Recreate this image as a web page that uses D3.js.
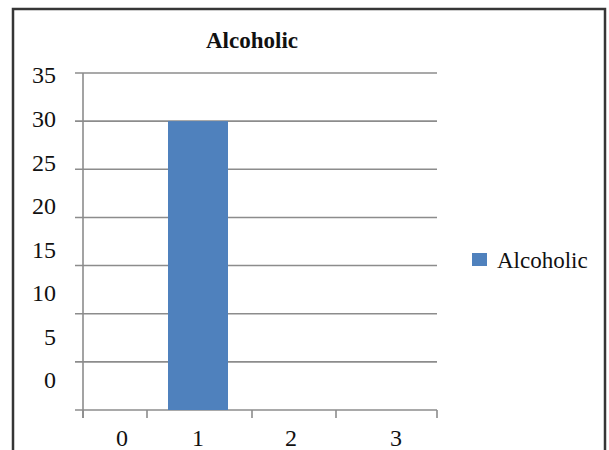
<!DOCTYPE html>
<html>
<head>
<meta charset="utf-8">
<script src="https://cdn.jsdelivr.net/npm/d3@7"></script>
<style>
  html, body { margin: 0; padding: 0; background: #fff; }
  svg { display: block; }
</style>
</head>
<body>
<svg id="chart" width="609" height="450"></svg>
<script>
// ---- data ----
const categories = [0, 1, 2, 3];
const seriesName = "Alcoholic";
const values = [0, 30, 0, 0];
const yTickValues = [0, 5, 10, 15, 20, 25, 30, 35];
const chartTitle = "Alcoholic";

// ---- layout ----
const svg = d3.select("#chart");
const FONT = '"Liberation Serif"';

// outer frame
svg.append("rect")
  .attr("x", 13).attr("y", 9)
  .attr("width", 592).attr("height", 460)
  .attr("fill", "#fff")
  .attr("stroke", "#363636")
  .attr("stroke-width", 2.5);

// y scale for marks / gridlines
const y = d3.scaleLinear().domain([0, 35]).range([410, 73]);
// y scale for the (offset) tick labels as they appear
const yLabel = d3.scaleLinear().domain([0, 35]).range([380, 75]);

// x scale (piecewise, matches the uneven category layout)
const x = d3.scaleLinear()
  .domain([-0.5, 0, 0.5, 1, 1.5, 2, 2.5, 3, 3.5])
  .range([83, 122, 147, 198, 252, 291, 336, 396, 437]);
const barWidth = 60;

const plotLeft = x(-0.5), plotRight = x(3.5);

// gridlines (including baseline)
svg.append("g")
  .selectAll("line")
  .data(yTickValues)
  .join("line")
  .attr("x1", plotLeft - 8).attr("x2", plotRight)
  .attr("y1", d => y(d)).attr("y2", d => y(d))
  .attr("stroke", "#8c8c8c")
  .attr("stroke-width", 1.6);

// y axis line
svg.append("line")
  .attr("x1", plotLeft).attr("x2", plotLeft)
  .attr("y1", y(35)).attr("y2", y(0) + 8)
  .attr("stroke", "#8c8c8c").attr("stroke-width", 1.6);

// x ticks at category boundaries
const boundaries = [-0.5, 0.5, 1.5, 2.5, 3.5];
svg.append("g")
  .selectAll("line")
  .data(boundaries)
  .join("line")
  .attr("x1", d => x(d)).attr("x2", d => x(d))
  .attr("y1", y(0)).attr("y2", y(0) + 8)
  .attr("stroke", "#8c8c8c").attr("stroke-width", 1.6);

// bars
svg.append("g")
  .selectAll("rect")
  .data(categories.map((c, i) => ({ c, v: values[i] })).filter(d => d.v > 0))
  .join("rect")
  .attr("x", d => x(d.c) - barWidth / 2)
  .attr("width", barWidth)
  .attr("y", d => y(d.v))
  .attr("height", d => y(0) - y(d.v))
  .attr("fill", "#4f81bd");

// y labels
svg.append("g")
  .selectAll("text")
  .data(yTickValues)
  .join("text")
  .attr("x", 56)
  .attr("y", d => yLabel(d))
  .attr("dy", "0.35em")
  .attr("text-anchor", "end")
  .style("font-family", FONT)
  .style("font-size", "24px")
  .attr("fill", "#111")
  .text(d => d);

// x labels
svg.append("g")
  .selectAll("text")
  .data(categories)
  .join("text")
  .attr("x", d => x(d))
  .attr("y", 446)
  .attr("text-anchor", "middle")
  .style("font-family", FONT)
  .style("font-size", "24px")
  .attr("fill", "#111")
  .text(d => d);

// title
svg.append("text")
  .attr("x", 252).attr("y", 48)
  .attr("text-anchor", "middle")
  .style("font-family", FONT)
  .style("font-weight", "bold")
  .style("font-size", "23px")
  .attr("fill", "#111")
  .text(chartTitle);

// legend
const legend = svg.append("g").attr("transform", "translate(472,253)");
legend.append("rect")
  .attr("width", 15).attr("height", 13)
  .attr("fill", "#4f81bd");
legend.append("text")
  .attr("x", 25).attr("y", 7)
  .attr("dy", "0.35em")
  .style("font-family", FONT)
  .style("font-size", "23px")
  .attr("fill", "#111")
  .text(seriesName);
</script>
</body>
</html>
